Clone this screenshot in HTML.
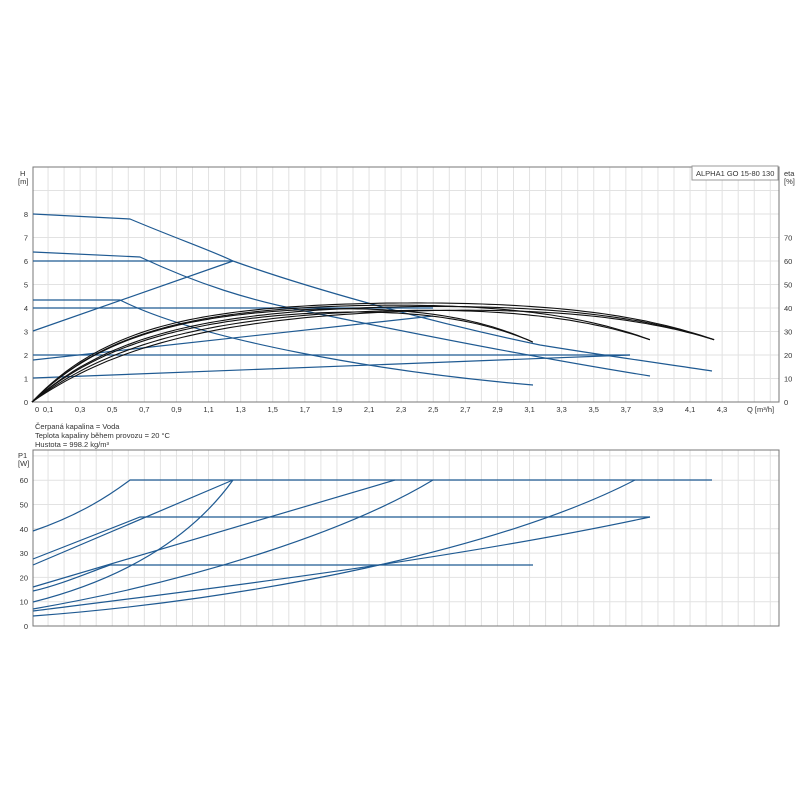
<!DOCTYPE html><html><head><meta charset="utf-8"><style>
body{margin:0;background:#fff;width:800px;height:800px;overflow:hidden}
svg{position:absolute;left:0;top:0}
text{font-family:"Liberation Sans",sans-serif;font-size:7.5px;fill:#333}
</style></head><body>
<svg width="800" height="800" viewBox="0 0 800 800">
<g id="grid" stroke="#e2e2e2" stroke-width="1"></g>
<g fill="none" stroke="#777" stroke-width="1">
<rect x="33" y="167" width="746" height="235"/>
<rect x="33" y="450" width="746" height="176"/>
</g>
<g id="lbl"></g>
<rect x="692" y="166" width="86" height="14" fill="#fff" stroke="#999"/>
<text x="696" y="176">ALPHA1 GO 15-80 130</text>
<text x="20" y="176">H</text><text x="18" y="184">[m]</text>
<text x="784" y="176">eta</text><text x="784" y="184">[%]</text>
<text x="747" y="412">Q [m³/h]</text>
<text x="35" y="429">Čerpaná kapalina = Voda</text>
<text x="35" y="438">Teplota kapaliny během provozu = 20 °C</text>
<text x="35" y="447">Hustota = 998.2 kg/m³</text>
<text x="18" y="458">P1</text><text x="18" y="466">[W]</text>
<g fill="none" stroke="#1f5a92" stroke-width="1.2">
<path d="M33,214 L130,219 C180,240 210,250 233,261 C300,285 420,320 540,345 C620,358 680,366 712,371"/>
<path d="M33,252 L140,257 C200,285 250,300 300,310 C420,335 550,360 650,376"/>
<path d="M33,300 L120,300 C200,340 380,372 533,385"/>
<path d="M33,261 H233"/><path d="M33,308 H433"/><path d="M33,355 H630"/>
<path d="M33,331 L233,261"/><path d="M33,360 L433,316"/><path d="M33,378 L630,355"/>
<path d="M33,531 C80,515 110,495 130,480 H712"/>
<path d="M33,559 L140,517 H650"/>
<path d="M33,565 L233,480"/>
<path d="M33,602 C120,580 190,540 233,480"/>
<path d="M33,587 L395,480"/>
<path d="M33,591 C60,585 90,572 110,565 H533"/>
<path d="M33,609 C200,580 350,530 433,480"/>
<path d="M33,611 C200,590 450,560 650,517"/>
<path d="M33,616 C250,600 500,550 635,480"/>
</g>
<g id="blk" fill="none" stroke="#111" stroke-width="1.1"></g>
</svg>
<script>
var g=document.getElementById('grid'),l=document.getElementById('lbl'),ns='http://www.w3.org/2000/svg';
function ln(p,x1,y1,x2,y2,c){var e=document.createElementNS(ns,'line');e.setAttribute('x1',x1);e.setAttribute('y1',y1);e.setAttribute('x2',x2);e.setAttribute('y2',y2);if(c)e.setAttribute('stroke',c);p.appendChild(e);}
function tx(x,y,s,a){var e=document.createElementNS(ns,'text');e.setAttribute('x',x);e.setAttribute('y',y);if(a)e.setAttribute('text-anchor',a);e.textContent=s;l.appendChild(e);}
for(var i=1;i<=46;i++){var x=32+16.05*i;if(x>=779)break;ln(g,x,167,x,402);ln(g,x,450,x,626);}
for(var h=1;h<=10;h++){var y=402-23.5*h;if(y<=167)break;ln(g,33,y,779,y);}
for(var p=1;p<=7;p++){var y=626-24.3*p;if(y<=450)break;ln(g,33,y,779,y);}
for(var h=0;h<=8;h++)tx(28,405-23.5*h,''+h,'end');
for(var e=0;e<=70;e+=10)tx(784,405-2.35*e,''+e);
for(var p=0;p<=60;p+=10)tx(28,629-2.43*p,''+p,'end');
tx(35,412,'0');
for(var q=1;q<=43;q+=2){tx(32+16.05*q,412,(q<10?'0,':Math.floor(q/10)+',')+(q%10),'middle');}
var b=document.getElementById('blk');
var cs=[[4.25,0.62,3.12,2.55],[4.2,0.72,3.12,2.55],[4.3,0.62,3.85,2.65],[4.2,0.8,3.85,2.65],[4.35,0.6,4.25,2.65],[4.25,0.7,4.25,2.65],[4.2,0.88,4.25,2.65]];
cs.forEach(function(c){var A=c[0],B=c[1],E=c[2],H=c[3];var k=(A*(1-Math.exp(-E/B))-H)/Math.pow(E,6);var d='';for(var i=0;i<=100;i++){var q=E*i/100;var h=A*(1-Math.exp(-q/B))-k*Math.pow(q,6);d+=(i?'L':'M')+(32+160.5*q).toFixed(1)+','+(402-23.5*h).toFixed(1);}var e=document.createElementNS(ns,'path');e.setAttribute('d',d);b.appendChild(e);});
</script>
</body></html>
